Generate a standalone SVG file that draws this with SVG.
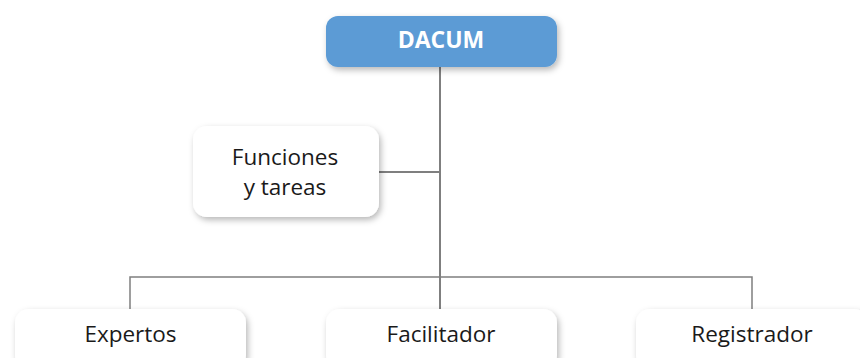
<svg xmlns="http://www.w3.org/2000/svg" width="860" height="358" viewBox="0 0 860 358">
  <defs>
    <filter id="sh" x="-10%" y="-20%" width="130%" height="160%">
      <feDropShadow dx="2" dy="3" stdDeviation="3" flood-color="#000" flood-opacity="0.28"/>
    </filter>
  </defs>
  <style>
    .box{fill:#ffffff;filter:url(#sh)}
    .top{fill:#5b9bd5;filter:url(#sh)}
    .lbl{font-family:"Open Sans","Noto Sans",sans-serif;font-size:22.5px;fill:#1a1a1a;text-anchor:middle}
    .ttl{font-family:"Open Sans","Noto Sans",sans-serif;font-size:23px;font-weight:bold;fill:#ffffff;text-anchor:middle}
    .ln{stroke:#7f7f7f;stroke-width:1.5;fill:none}
  </style>
  <rect width="860" height="358" fill="#ffffff"/>
  <g id="connectors">
    <line class="ln" x1="440" y1="67" x2="440" y2="309" style="stroke-width:2"/>
    <line class="ln" x1="379" y1="172" x2="440" y2="172" style="stroke-width:2"/>
    <polyline class="ln" points="130,309 130,277 752,277 752,309"/>
  </g>
  <g id="dacum">
    <rect class="top" x="326" y="16" width="231" height="51" rx="12"/>
    <text class="ttl" x="441" y="47.5">DACUM</text>
  </g>
  <g id="funciones">
    <rect class="box" x="193" y="126" width="186" height="91" rx="14"/>
    <text class="lbl" x="285" y="165">Funciones</text>
    <text class="lbl" x="285" y="195">y tareas</text>
  </g>
  <g id="expertos">
    <rect class="box" x="15" y="309" width="231" height="60" rx="14"/>
    <text class="lbl" x="130.5" y="342">Expertos</text>
  </g>
  <g id="facilitador">
    <rect class="box" x="326" y="309" width="231" height="60" rx="14"/>
    <text class="lbl" x="441" y="342">Facilitador</text>
  </g>
  <g id="registrador">
    <rect class="box" x="636" y="309" width="232" height="60" rx="14"/>
    <text class="lbl" x="752" y="342">Registrador</text>
  </g>
</svg>
